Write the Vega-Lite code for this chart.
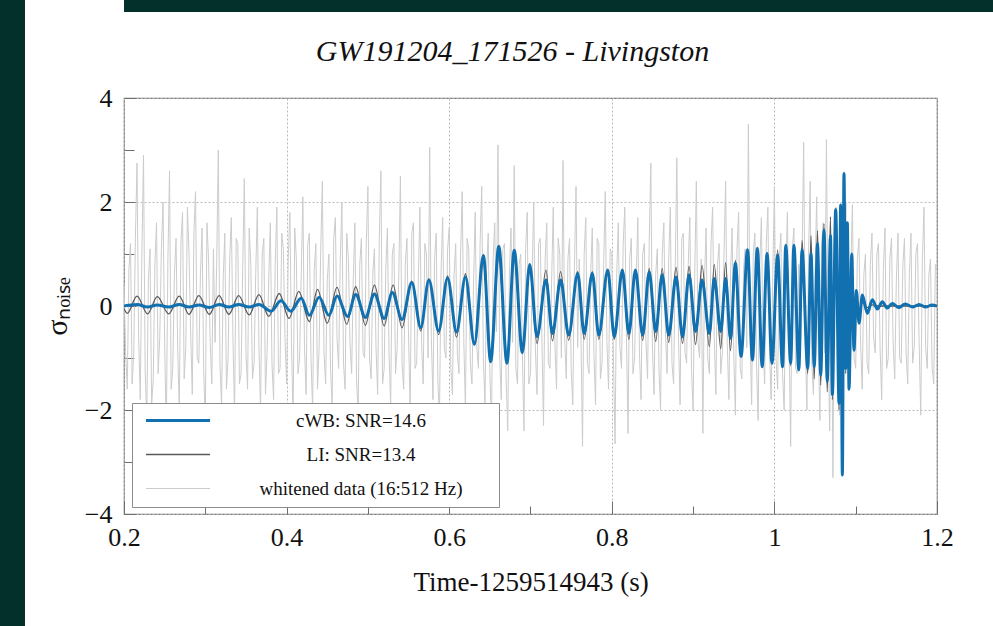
{
  "$schema": "https://vega.github.io/schema/vega-lite/v6.json",
  "padding": 0,
  "background": "white",
  "config": {"font": "Liberation Serif"},
  "datasets": {
    "cwb": [
      {"t":0.2,"v":0},{"t":0.216,"v":0.03},{"t":0.229,"v":-0.02},{"t":0.241,"v":0.02},{"t":0.255,"v":-0.02},{"t":0.268,"v":0.03},{"t":0.28,"v":-0.02},{"t":0.292,"v":0.02},{"t":0.305,"v":-0.03},{"t":0.317,"v":0.03},{"t":0.329,"v":-0.02},{"t":0.341,"v":0.03},{"t":0.354,"v":-0.02},{"t":0.366,"v":0.03},{"t":0.381,"v":-0.1},{"t":0.393,"v":0.1},{"t":0.405,"v":-0.1},{"t":0.418,"v":0.15},{"t":0.428,"v":-0.18},{"t":0.44,"v":0.17},{"t":0.452,"v":-0.18},{"t":0.462,"v":0.19},{"t":0.475,"v":-0.2},{"t":0.485,"v":0.22},{"t":0.497,"v":-0.22},{"t":0.508,"v":0.23},{"t":0.52,"v":-0.24},{"t":0.53,"v":0.26},{"t":0.542,"v":-0.26},{"t":0.554,"v":0.45},{"t":0.565,"v":-0.42},{"t":0.575,"v":0.5},{"t":0.587,"v":-0.48},{"t":0.598,"v":0.54},{"t":0.609,"v":-0.5},{"t":0.62,"v":0.56},{"t":0.631,"v":-0.74},{"t":0.642,"v":0.97},{"t":0.651,"v":-1.07},{"t":0.661,"v":1.15},{"t":0.671,"v":-1.1},{"t":0.68,"v":1.07},{"t":0.69,"v":-0.9},{"t":0.699,"v":0.8},{"t":0.708,"v":-0.59},{"t":0.719,"v":0.5},{"t":0.727,"v":-0.53},{"t":0.737,"v":0.5},{"t":0.747,"v":-0.56},{"t":0.758,"v":0.63},{"t":0.766,"v":-0.53},{"t":0.776,"v":0.63},{"t":0.784,"v":-0.56},{"t":0.795,"v":0.69},{"t":0.803,"v":-0.59},{"t":0.813,"v":0.69},{"t":0.821,"v":-0.53},{"t":0.829,"v":0.69},{"t":0.838,"v":-0.56},{"t":0.846,"v":0.66},{"t":0.854,"v":-0.49},{"t":0.862,"v":0.6},{"t":0.87,"v":-0.56},{"t":0.879,"v":0.56},{"t":0.887,"v":-0.59},{"t":0.895,"v":0.6},{"t":0.903,"v":-0.49},{"t":0.911,"v":0.5},{"t":0.92,"v":-0.53},{"t":0.926,"v":0.53},{"t":0.934,"v":-0.49},{"t":0.94,"v":0.53},{"t":0.946,"v":-0.62},{"t":0.952,"v":0.82},{"t":0.959,"v":-0.97},{"t":0.967,"v":1.08},{"t":0.973,"v":-1.04},{"t":0.979,"v":1.11},{"t":0.985,"v":-1.17},{"t":0.991,"v":1.01},{"t":0.997,"v":-1.1},{"t":1.004,"v":0.98},{"t":1.01,"v":-1.17},{"t":1.014,"v":1.17},{"t":1.02,"v":-1.1},{"t":1.024,"v":1.17},{"t":1.03,"v":-1.23},{"t":1.034,"v":1.08},{"t":1.041,"v":-1.2},{"t":1.045,"v":1.01},{"t":1.049,"v":-1.17},{"t":1.053,"v":1.2},{"t":1.057,"v":-1.33},{"t":1.061,"v":1.46},{"t":1.065,"v":-1.45},{"t":1.069,"v":1.35},{"t":1.0713,"v":-1.7},{"t":1.0754,"v":1.85},{"t":1.0795,"v":-1.87},{"t":1.0815,"v":1.94},{"t":1.0836,"v":-3.25},{"t":1.0856,"v":2.55},{"t":1.0877,"v":-1.2},{"t":1.0897,"v":1.6},{"t":1.0918,"v":-1.6},{"t":1.0951,"v":1.0},{"t":1.0979,"v":-0.85},{"t":1.1008,"v":0.3},{"t":1.1041,"v":-0.33},{"t":1.1082,"v":0.21},{"t":1.1143,"v":-0.14},{"t":1.1205,"v":0.12},{"t":1.1266,"v":-0.06},{"t":1.1327,"v":0.08},{"t":1.1389,"v":-0.04},{"t":1.145,"v":0.05},{"t":1.153,"v":-0.03},{"t":1.161,"v":0.04},{"t":1.17,"v":-0.02},{"t":1.178,"v":0.03},{"t":1.186,"v":-0.02},{"t":1.194,"v":0.02},{"t":1.2,"v":0}
    ],
    "li": [
      {"t":0.2,"v":-0.05},{"t":0.204,"v":-0.14},{"t":0.216,"v":0.19},{"t":0.229,"v":-0.15},{"t":0.241,"v":0.18},{"t":0.255,"v":-0.15},{"t":0.268,"v":0.19},{"t":0.28,"v":-0.16},{"t":0.292,"v":0.2},{"t":0.305,"v":-0.16},{"t":0.317,"v":0.2},{"t":0.329,"v":-0.16},{"t":0.341,"v":0.2},{"t":0.354,"v":-0.17},{"t":0.366,"v":0.22},{"t":0.378,"v":-0.2},{"t":0.391,"v":0.24},{"t":0.403,"v":-0.24},{"t":0.415,"v":0.28},{"t":0.428,"v":-0.3},{"t":0.438,"v":0.32},{"t":0.45,"v":-0.33},{"t":0.462,"v":0.36},{"t":0.474,"v":-0.35},{"t":0.485,"v":0.37},{"t":0.497,"v":-0.37},{"t":0.508,"v":0.4},{"t":0.52,"v":-0.38},{"t":0.531,"v":0.4},{"t":0.542,"v":-0.42},{"t":0.554,"v":0.48},{"t":0.565,"v":-0.48},{"t":0.575,"v":0.52},{"t":0.587,"v":-0.55},{"t":0.598,"v":0.58},{"t":0.609,"v":-0.6},{"t":0.62,"v":0.62},{"t":0.631,"v":-0.7},{"t":0.642,"v":0.84},{"t":0.651,"v":-0.9},{"t":0.661,"v":0.92},{"t":0.671,"v":-0.94},{"t":0.68,"v":0.88},{"t":0.69,"v":-0.82},{"t":0.699,"v":0.76},{"t":0.708,"v":-0.72},{"t":0.719,"v":0.69},{"t":0.727,"v":-0.67},{"t":0.737,"v":0.66},{"t":0.747,"v":-0.66},{"t":0.758,"v":0.66},{"t":0.766,"v":-0.64},{"t":0.776,"v":0.66},{"t":0.784,"v":-0.64},{"t":0.795,"v":0.68},{"t":0.803,"v":-0.64},{"t":0.813,"v":0.69},{"t":0.821,"v":-0.64},{"t":0.829,"v":0.7},{"t":0.838,"v":-0.66},{"t":0.846,"v":0.72},{"t":0.854,"v":-0.68},{"t":0.862,"v":0.72},{"t":0.87,"v":-0.7},{"t":0.879,"v":0.74},{"t":0.887,"v":-0.72},{"t":0.895,"v":0.76},{"t":0.903,"v":-0.74},{"t":0.911,"v":0.78},{"t":0.92,"v":-0.78},{"t":0.926,"v":0.8},{"t":0.934,"v":-0.82},{"t":0.94,"v":0.84},{"t":0.946,"v":-0.86},{"t":0.952,"v":0.88},{"t":0.959,"v":-0.9},{"t":0.967,"v":0.92},{"t":0.973,"v":-0.95},{"t":0.979,"v":0.98},{"t":0.985,"v":-1.0},{"t":0.991,"v":1.02},{"t":0.997,"v":-1.05},{"t":1.004,"v":1.08},{"t":1.01,"v":-1.1},{"t":1.014,"v":1.12},{"t":1.02,"v":-1.15},{"t":1.024,"v":1.18},{"t":1.03,"v":-1.22},{"t":1.034,"v":1.26},{"t":1.041,"v":-1.3},{"t":1.045,"v":1.35},{"t":1.049,"v":-1.4},{"t":1.053,"v":1.45},{"t":1.057,"v":-1.52},{"t":1.061,"v":1.58},{"t":1.065,"v":-1.65},{"t":1.069,"v":1.72},{"t":1.0713,"v":-1.8},{"t":1.0754,"v":1.88},{"t":1.0795,"v":-2.0},{"t":1.0815,"v":1.95},{"t":1.0836,"v":-2.3},{"t":1.0856,"v":1.8},{"t":1.0877,"v":-1.3},{"t":1.0897,"v":1.0},{"t":1.0918,"v":-0.7},{"t":1.0951,"v":0.45},{"t":1.0979,"v":-0.3},{"t":1.1008,"v":0.18},{"t":1.1041,"v":-0.1},{"t":1.1082,"v":0.06},{"t":1.1143,"v":-0.03},{"t":1.1205,"v":0.02},{"t":1.13,"v":0},{"t":1.2,"v":0}
    ],
    "wd": [
      {"t":0.2,"v":0.4},{"t":0.202,"v":-0.9},{"t":0.204,"v":-1.6},{"t":0.206,"v":0.7},{"t":0.208,"v":1.2},{"t":0.21,"v":-1.5},{"t":0.212,"v":-0.9},{"t":0.214,"v":1.3},{"t":0.216,"v":2.75},{"t":0.218,"v":-0.6},{"t":0.22,"v":-1.8},{"t":0.222,"v":1.0},{"t":0.224,"v":2.9},{"t":0.226,"v":-1.2},{"t":0.228,"v":-2.2},{"t":0.23,"v":0.5},{"t":0.232,"v":1.1},{"t":0.234,"v":-1.9},{"t":0.236,"v":-1.4},{"t":0.238,"v":0.8},
      {"t":0.24,"v":1.6},{"t":0.242,"v":-1.3},{"t":0.244,"v":-0.6},{"t":0.246,"v":1.1},{"t":0.248,"v":2.0},{"t":0.25,"v":-0.7},{"t":0.252,"v":-2.4},{"t":0.254,"v":0.9},{"t":0.256,"v":2.6},{"t":0.258,"v":-1.6},{"t":0.26,"v":-1.2},{"t":0.262,"v":0.6},{"t":0.264,"v":1.3},{"t":0.266,"v":-0.8},{"t":0.268,"v":-2.0},{"t":0.27,"v":1.2},{"t":0.272,"v":1.8},{"t":0.274,"v":-1.4},{"t":0.276,"v":-0.8},{"t":0.278,"v":1.9},
      {"t":0.28,"v":1.0},{"t":0.282,"v":-0.5},{"t":0.284,"v":-1.7},{"t":0.286,"v":1.4},{"t":0.288,"v":2.2},{"t":0.29,"v":-1.0},{"t":0.292,"v":-1.1},{"t":0.294,"v":0.6},{"t":0.296,"v":1.5},{"t":0.298,"v":-1.2},{"t":0.3,"v":-2.3},{"t":0.302,"v":1.6},{"t":0.304,"v":0.9},{"t":0.306,"v":-0.7},{"t":0.308,"v":-1.5},{"t":0.31,"v":1.1},{"t":0.312,"v":-0.7},{"t":0.314,"v":0.8},{"t":0.316,"v":3.0},{"t":0.318,"v":-1.1},
      {"t":0.32,"v":-1.9},{"t":0.322,"v":0.5},{"t":0.324,"v":1.4},{"t":0.326,"v":-1.6},{"t":0.328,"v":-1.0},{"t":0.33,"v":0.9},{"t":0.332,"v":1.7},{"t":0.334,"v":-0.6},{"t":0.336,"v":-2.1},{"t":0.338,"v":1.3},{"t":0.34,"v":1.2},{"t":0.342,"v":-1.5},{"t":0.344,"v":-1.3},{"t":0.346,"v":0.7},{"t":0.348,"v":2.45},{"t":0.35,"v":-0.9},{"t":0.352,"v":-1.6},{"t":0.354,"v":1.5},{"t":0.356,"v":0.8},{"t":0.358,"v":-1.4},
      {"t":0.36,"v":-1.1},{"t":0.362,"v":0.6},{"t":0.364,"v":1.9},{"t":0.366,"v":-0.8},{"t":0.368,"v":-2.0},{"t":0.37,"v":1.0},{"t":0.372,"v":1.3},{"t":0.374,"v":-1.7},{"t":0.376,"v":-0.9},{"t":0.378,"v":0.5},{"t":0.38,"v":1.6},{"t":0.382,"v":-1.1},{"t":0.384,"v":-1.8},{"t":0.386,"v":0.8},{"t":0.388,"v":1.9},{"t":0.39,"v":-1.3},{"t":0.392,"v":-1.2},{"t":0.394,"v":1.4},{"t":0.396,"v":1.1},{"t":0.398,"v":-0.6},
      {"t":0.4,"v":-1.5},{"t":0.402,"v":0.9},{"t":0.404,"v":1.8},{"t":0.406,"v":-0.7},{"t":0.408,"v":-2.2},{"t":0.41,"v":1.5},{"t":0.412,"v":0.9},{"t":0.414,"v":-1.3},{"t":0.416,"v":-1.0},{"t":0.418,"v":0.6},{"t":0.42,"v":2.1},{"t":0.422,"v":-0.8},{"t":0.424,"v":-1.7},{"t":0.426,"v":1.2},{"t":0.428,"v":1.4},{"t":0.43,"v":-1.0},{"t":0.432,"v":-2.0},{"t":0.434,"v":0.7},{"t":0.436,"v":1.2},{"t":0.438,"v":-1.6},
      {"t":0.44,"v":-0.8},{"t":0.442,"v":1.1},{"t":0.444,"v":2.4},{"t":0.446,"v":-0.9},{"t":0.448,"v":-1.5},{"t":0.45,"v":0.5},{"t":0.452,"v":1.0},{"t":0.454,"v":-1.2},{"t":0.456,"v":-1.9},{"t":0.458,"v":1.3},{"t":0.46,"v":1.7},{"t":0.462,"v":-0.6},{"t":0.464,"v":-1.2},{"t":0.466,"v":0.9},{"t":0.468,"v":2.0},{"t":0.47,"v":-1.1},{"t":0.472,"v":-1.6},{"t":0.474,"v":1.4},{"t":0.476,"v":0.9},{"t":0.478,"v":-0.7},
      {"t":0.48,"v":-1.3},{"t":0.482,"v":0.5},{"t":0.484,"v":1.6},{"t":0.486,"v":-1.4},{"t":0.488,"v":-2.1},{"t":0.49,"v":0.8},{"t":0.492,"v":1.3},{"t":0.494,"v":-0.9},{"t":0.496,"v":-1.0},{"t":0.498,"v":1.2},{"t":0.5,"v":2.3},{"t":0.502,"v":-1.0},{"t":0.504,"v":-1.4},{"t":0.506,"v":0.6},{"t":0.508,"v":1.1},{"t":0.51,"v":-0.8},{"t":0.512,"v":-1.7},{"t":0.514,"v":1.3},{"t":0.516,"v":2.6},{"t":0.518,"v":-1.5},
      {"t":0.52,"v":-1.2},{"t":0.522,"v":0.7},{"t":0.524,"v":1.5},{"t":0.526,"v":-0.9},{"t":0.528,"v":-1.9},{"t":0.53,"v":1.0},{"t":0.532,"v":1.2},{"t":0.534,"v":-1.3},{"t":0.536,"v":-0.8},{"t":0.538,"v":0.6},{"t":0.54,"v":2.5},{"t":0.542,"v":-1.1},{"t":0.544,"v":-1.6},{"t":0.546,"v":0.8},{"t":0.548,"v":1.3},{"t":0.55,"v":-0.6},{"t":0.552,"v":-2.0},{"t":0.554,"v":1.4},{"t":0.556,"v":1.6},{"t":0.558,"v":-1.2},
      {"t":0.56,"v":-1.1},{"t":0.562,"v":0.5},{"t":0.564,"v":1.9},{"t":0.566,"v":-0.7},{"t":0.568,"v":-1.5},{"t":0.57,"v":1.2},{"t":0.572,"v":1.0},{"t":0.574,"v":-1.0},{"t":0.576,"v":3.05},{"t":0.578,"v":-0.6},{"t":0.58,"v":-1.8},{"t":0.582,"v":0.9},{"t":0.584,"v":1.4},{"t":0.586,"v":-1.4},{"t":0.588,"v":-2.2},{"t":0.59,"v":0.7},{"t":0.592,"v":1.7},{"t":0.594,"v":-0.8},{"t":0.596,"v":-1.0},{"t":0.598,"v":1.1},
      {"t":0.6,"v":1.5},{"t":0.602,"v":-1.2},{"t":0.604,"v":-1.7},{"t":0.606,"v":0.6},{"t":0.608,"v":1.2},{"t":0.61,"v":-0.9},{"t":0.612,"v":-1.3},{"t":0.614,"v":1.0},{"t":0.616,"v":2.2},{"t":0.618,"v":-0.7},{"t":0.62,"v":-2.0},{"t":0.622,"v":1.3},{"t":0.624,"v":1.1},{"t":0.626,"v":-1.1},{"t":0.628,"v":-1.5},{"t":0.63,"v":0.5},{"t":0.632,"v":1.8},{"t":0.634,"v":-0.8},{"t":0.636,"v":-1.2},{"t":0.638,"v":1.2},
      {"t":0.64,"v":2.3},{"t":0.642,"v":-1.0},{"t":0.644,"v":-1.9},{"t":0.646,"v":0.7},{"t":0.648,"v":1.4},{"t":0.65,"v":-1.3},{"t":0.652,"v":-2.3},{"t":0.654,"v":0.9},{"t":0.656,"v":1.6},{"t":0.658,"v":-0.5},{"t":0.66,"v":3.1},{"t":0.662,"v":-0.9},{"t":0.664,"v":-1.8},{"t":0.666,"v":1.1},{"t":0.668,"v":1.2},{"t":0.67,"v":-1.4},{"t":0.672,"v":-2.4},{"t":0.674,"v":0.6},{"t":0.676,"v":1.5},{"t":0.678,"v":-0.7},
      {"t":0.68,"v":2.7},{"t":0.682,"v":-1.2},{"t":0.684,"v":-1.5},{"t":0.686,"v":0.8},{"t":0.688,"v":1.0},{"t":0.69,"v":-0.9},{"t":0.692,"v":-2.4},{"t":0.694,"v":1.1},{"t":0.696,"v":1.8},{"t":0.698,"v":-1.5},{"t":0.7,"v":-1.3},{"t":0.702,"v":0.6},{"t":0.704,"v":2.0},{"t":0.706,"v":-0.8},{"t":0.708,"v":-1.7},{"t":0.71,"v":1.2},{"t":0.712,"v":1.3},{"t":0.714,"v":-0.6},{"t":0.716,"v":-2.3},{"t":0.718,"v":0.9},
      {"t":0.72,"v":1.6},{"t":0.722,"v":-1.1},{"t":0.724,"v":-1.2},{"t":0.726,"v":0.5},{"t":0.728,"v":1.9},{"t":0.73,"v":-0.7},{"t":0.732,"v":-1.6},{"t":0.734,"v":1.3},{"t":0.736,"v":1.0},{"t":0.738,"v":-1.0},{"t":0.74,"v":2.8},{"t":0.742,"v":-0.6},{"t":0.744,"v":-1.4},{"t":0.746,"v":0.9},{"t":0.748,"v":1.3},{"t":0.75,"v":-1.2},{"t":0.752,"v":-1.9},{"t":0.754,"v":0.7},{"t":0.756,"v":2.3},{"t":0.758,"v":-0.8},
      {"t":0.76,"v":0.9},{"t":0.762,"v":-0.5},{"t":0.764,"v":-2.7},{"t":0.766,"v":1.0},{"t":0.768,"v":1.7},{"t":0.77,"v":-1.1},{"t":0.772,"v":-1.3},{"t":0.774,"v":0.6},{"t":0.776,"v":1.5},{"t":0.778,"v":-0.9},{"t":0.78,"v":-1.9},{"t":0.782,"v":1.3},{"t":0.784,"v":1.2},{"t":0.786,"v":-1.4},{"t":0.788,"v":-1.1},{"t":0.79,"v":0.8},{"t":0.792,"v":2.2},{"t":0.794,"v":-0.7},{"t":0.796,"v":-1.6},{"t":0.798,"v":1.1},
      {"t":0.8,"v":1.0},{"t":0.802,"v":-1.0},{"t":0.804,"v":-2.65},{"t":0.806,"v":0.6},{"t":0.808,"v":1.6},{"t":0.81,"v":-0.8},{"t":0.812,"v":-1.2},{"t":0.814,"v":1.2},{"t":0.816,"v":1.9},{"t":0.818,"v":-0.6},{"t":0.82,"v":-2.45},{"t":0.822,"v":0.9},{"t":0.824,"v":1.3},{"t":0.826,"v":-1.3},{"t":0.828,"v":-1.0},{"t":0.83,"v":0.5},{"t":0.832,"v":1.7},{"t":0.834,"v":-0.9},{"t":0.836,"v":-1.8},{"t":0.838,"v":1.0},
      {"t":0.84,"v":1.2},{"t":0.842,"v":-0.7},{"t":0.844,"v":-1.4},{"t":0.846,"v":1.2},{"t":0.848,"v":2.75},{"t":0.85,"v":-0.8},{"t":0.852,"v":-1.7},{"t":0.854,"v":0.6},{"t":0.856,"v":1.1},{"t":0.858,"v":-1.2},{"t":0.86,"v":-2.0},{"t":0.862,"v":1.0},{"t":0.864,"v":1.6},{"t":0.866,"v":-0.5},{"t":0.868,"v":-1.3},{"t":0.87,"v":0.9},{"t":0.872,"v":1.9},{"t":0.874,"v":-1.1},{"t":0.876,"v":-1.5},{"t":0.878,"v":0.7},
      {"t":0.88,"v":2.85},{"t":0.882,"v":-0.6},{"t":0.884,"v":-1.9},{"t":0.886,"v":1.3},{"t":0.888,"v":1.4},{"t":0.89,"v":-0.9},{"t":0.892,"v":-1.1},{"t":0.894,"v":0.8},{"t":0.896,"v":1.7},{"t":0.898,"v":-1.2},{"t":0.9,"v":-2.0},{"t":0.902,"v":0.6},{"t":0.904,"v":2.4},{"t":0.906,"v":-0.7},{"t":0.908,"v":-1.0},{"t":0.91,"v":0.9},{"t":0.912,"v":-2.45},{"t":0.914,"v":0.5},{"t":0.916,"v":1.5},{"t":0.918,"v":-1.0},
      {"t":0.92,"v":-1.3},{"t":0.922,"v":1.2},{"t":0.924,"v":1.9},{"t":0.926,"v":-0.6},{"t":0.928,"v":-1.7},{"t":0.93,"v":0.8},{"t":0.932,"v":1.2},{"t":0.934,"v":-1.3},{"t":0.936,"v":-0.9},{"t":0.938,"v":1.0},{"t":0.94,"v":2.4},{"t":0.942,"v":-0.7},{"t":0.944,"v":-1.8},{"t":0.946,"v":0.6},{"t":0.948,"v":1.5},{"t":0.95,"v":-0.9},{"t":0.952,"v":-2.1},{"t":0.954,"v":1.1},{"t":0.956,"v":1.8},{"t":0.958,"v":-1.2},
      {"t":0.96,"v":-1.4},{"t":0.962,"v":0.7},{"t":0.964,"v":1.1},{"t":0.966,"v":-0.8},{"t":0.968,"v":3.5},{"t":0.97,"v":-0.5},{"t":0.972,"v":-1.9},{"t":0.974,"v":1.0},{"t":0.976,"v":1.4},{"t":0.978,"v":-1.1},{"t":0.98,"v":-2.2},{"t":0.982,"v":0.8},{"t":0.984,"v":1.7},{"t":0.986,"v":-0.7},{"t":0.988,"v":-1.5},{"t":0.99,"v":1.2},{"t":0.992,"v":1.9},{"t":0.994,"v":-0.9},{"t":0.996,"v":-1.8},{"t":0.998,"v":0.6},
      {"t":1.0,"v":2.3},{"t":1.002,"v":-1.0},{"t":1.004,"v":-1.6},{"t":1.006,"v":0.9},{"t":1.008,"v":1.4},{"t":1.01,"v":-1.3},{"t":1.012,"v":-2.0},{"t":1.014,"v":0.7},{"t":1.016,"v":1.8},{"t":1.018,"v":-0.6},{"t":1.02,"v":-2.7},{"t":1.022,"v":1.1},{"t":1.024,"v":1.5},{"t":1.026,"v":-1.2},{"t":1.028,"v":-1.3},{"t":1.03,"v":0.8},{"t":1.032,"v":-1.0},{"t":1.034,"v":0.9},{"t":1.036,"v":3.15},{"t":1.038,"v":-0.7},
      {"t":1.04,"v":-2.0},{"t":1.042,"v":1.0},{"t":1.044,"v":2.4},{"t":1.046,"v":-1.1},{"t":1.048,"v":-1.7},{"t":1.05,"v":0.6},{"t":1.052,"v":2.1},{"t":1.054,"v":-0.8},{"t":1.056,"v":-2.2},{"t":1.058,"v":1.2},{"t":1.06,"v":1.6},{"t":1.062,"v":-0.9},{"t":1.064,"v":3.2},{"t":1.066,"v":-0.6},{"t":1.068,"v":-2.4},{"t":1.07,"v":0.8},{"t":1.072,"v":-3.3},{"t":1.074,"v":1.1},{"t":1.076,"v":1.9},{"t":1.078,"v":-1.2},
      {"t":1.08,"v":-2.1},{"t":1.082,"v":0.9},{"t":1.084,"v":-3.1},{"t":1.086,"v":1.0},{"t":1.088,"v":2.0},{"t":1.09,"v":-0.8},{"t":1.092,"v":-1.5},{"t":1.094,"v":0.7},{"t":1.096,"v":1.95},{"t":1.098,"v":-1.0},{"t":1.1,"v":-1.2},{"t":1.102,"v":0.9},{"t":1.104,"v":1.3},{"t":1.106,"v":-0.7},{"t":1.108,"v":-1.6},{"t":1.11,"v":0.6},{"t":1.112,"v":1.0},{"t":1.114,"v":-1.1},{"t":1.116,"v":-1.3},{"t":1.118,"v":0.8},
      {"t":1.12,"v":1.4},{"t":1.122,"v":-0.6},{"t":1.124,"v":-0.9},{"t":1.126,"v":1.0},{"t":1.128,"v":1.2},{"t":1.13,"v":-0.8},{"t":1.132,"v":-1.8},{"t":1.134,"v":0.7},{"t":1.136,"v":1.5},{"t":1.138,"v":-1.2},{"t":1.14,"v":-1.0},{"t":1.142,"v":0.9},{"t":1.144,"v":1.3},{"t":1.146,"v":-0.7},{"t":1.148,"v":-1.4},{"t":1.15,"v":0.5},{"t":1.152,"v":1.4},{"t":1.154,"v":-1.0},{"t":1.156,"v":-1.1},{"t":1.158,"v":0.8},
      {"t":1.16,"v":1.3},{"t":1.162,"v":-0.9},{"t":1.164,"v":-1.5},{"t":1.166,"v":0.6},{"t":1.168,"v":1.4},{"t":1.17,"v":-1.1},{"t":1.172,"v":-0.8},{"t":1.174,"v":1.0},{"t":1.176,"v":1.2},{"t":1.178,"v":-0.7},{"t":1.18,"v":-2.1},{"t":1.182,"v":0.9},{"t":1.184,"v":1.9},{"t":1.186,"v":-0.8},{"t":1.188,"v":-1.2},{"t":1.19,"v":0.6},{"t":1.192,"v":0.9},{"t":1.194,"v":-1.2},{"t":1.196,"v":-1.5},{"t":1.198,"v":0.8},
      {"t":1.2,"v":0.7}
    ]
  },
  "spacing": 16,
  "hconcat": [
    {
      "data": {"values": []},
      "mark": "point",
      "width": 25,
      "height": 626,
      "view": {"fill": "#04302b", "stroke": null}
    },
    {
      "spacing": 24,
      "vconcat": [
        {
          "data": {"values": []},
          "mark": "point",
          "width": 945,
          "height": 12,
          "view": {"fill": "#04302b", "stroke": null}
        },
        {
          "width": 813,
          "height": 416,
          "view": {"stroke": "#7a7a7a", "strokeWidth": 1.2, "fill": "white"},
          "title": {
            "text": "GW191204_171526 - Livingston",
            "font": "Liberation Serif",
            "fontStyle": "italic",
            "fontWeight": "normal",
            "fontSize": 30,
            "color": "#111111",
            "anchor": "middle",
            "frame": "group",
            "baseline": "alphabetic",
            "offset": -6,
            "dx": -18
          },
          "encoding": {
            "x": {
              "field": "t",
              "type": "quantitative",
              "scale": {"domain": [0.2, 1.2], "nice": false, "zero": false},
              "axis": {
                "values": [0.2, 0.3, 0.4, 0.5, 0.6, 0.7, 0.8, 0.9, 1.0, 1.1, 1.2],
                "format": "~g",
                "labelExpr": "abs(datum.value*5 - round(datum.value*5)) < 0.001 ? datum.label : ''",
                "labelFlush": false,
                "labelOverlap": false,
                "domain": false,
                "grid": true,
                "gridColor": "#b8b8b8",
                "gridDash": [2, 2],
                "gridWidth": 1,
                "gridOpacity": {"condition": {"test": "abs(datum.value*5 - round(datum.value*5)) < 0.001", "value": 1}, "value": 0},
                "tickColor": "#6e6e6e",
                "tickWidth": 1,
                "tickSize": {"condition": {"test": "abs(datum.value*5 - round(datum.value*5)) < 0.001", "value": -13}, "value": -8},
                "labelPadding": 23,
                "labelFont": "Liberation Serif",
                "labelFontSize": 26,
                "labelColor": "#111111",
                "title": "Time-1259514943 (s)",
                "titleFont": "Liberation Serif",
                "titleFontSize": 27,
                "titleFontWeight": "normal",
                "titleColor": "#111111",
                "titlePadding": 14
              }
            },
            "y": {
              "field": "v",
              "type": "quantitative",
              "scale": {"domain": [-4, 4], "nice": false, "zero": false},
              "axis": {
                "values": [-4, -3, -2, -1, 0, 1, 2, 3, 4],
                "format": "d",
                "labelExpr": "datum.value % 2 === 0 ? datum.label : ''",
                "labelOverlap": false,
                "domain": false,
                "grid": true,
                "gridColor": "#b8b8b8",
                "gridDash": [2, 2],
                "gridWidth": 1,
                "gridOpacity": {"condition": {"test": "datum.value % 2 === 0", "value": 1}, "value": 0},
                "tickColor": "#6e6e6e",
                "tickWidth": 1,
                "tickSize": {"condition": {"test": "datum.value % 2 === 0", "value": -12}, "value": -10},
                "labelPadding": 24,
                "labelFont": "Liberation Serif",
                "labelFontSize": 26,
                "labelColor": "#111111",
                "title": "\u03c3\u2099\u2092\u1d62\u209b\u2091",
                "titleFont": "Liberation Serif",
                "titleFontSize": 30,
                "titleFontWeight": "normal",
                "titleColor": "#111111",
                "titlePadding": 12
              }
            }
          },
          "layer": [
            {
              "data": {"name": "wd"},
              "mark": {"type": "line", "strokeWidth": 1, "clip": true},
              "encoding": {
                "color": {
                  "datum": "whitened data (16:512 Hz)",
                  "type": "nominal",
                  "scale": {
                    "domain": ["cWB: SNR=14.6", "LI: SNR=13.4", "whitened data (16:512 Hz)"],
                    "range": ["#1170b0", "#5a5a5a", "#cccccc"]
                  },
                  "legend": {
                    "orient": "none",
                    "legendX": 132,
                    "legendY": 403,
                    "title": null,
                    "direction": "vertical",
                    "fillColor": "white",
                    "strokeColor": "#8c8c8c",
                    "padding": 8,
                    "cornerRadius": 0,
                    "symbolType": "M-0.37,0H6.37M35.3,0",
                    "symbolSize": 361,
                    "symbolStrokeWidth": 1.5,
                    "labelFont": "Liberation Serif",
                    "labelFontSize": 19,
                    "labelColor": "#111111",
                    "labelAlign": "center",
                    "labelOffset": 202,
                    "labelLimit": 500,
                    "rowPadding": 14,
                    "encode": {
                      "symbols": {
                        "update": {
                          "strokeWidth": {"signal": "datum.value === 'cWB: SNR=14.6' ? 3 : (datum.value === 'LI: SNR=13.4' ? 1.3 : 1)"}
                        }
                      }
                    }
                  }
                }
              }
            },
            {
              "data": {"name": "li"},
              "mark": {"type": "line", "strokeWidth": 1.3, "interpolate": "monotone", "clip": true},
              "encoding": {"color": {"datum": "LI: SNR=13.4", "type": "nominal"}}
            },
            {
              "data": {"name": "cwb"},
              "mark": {"type": "line", "strokeWidth": 3, "interpolate": "monotone", "clip": true},
              "encoding": {"color": {"datum": "cWB: SNR=14.6", "type": "nominal"}}
            }
          ]
        }
      ]
    }
  ]
}
